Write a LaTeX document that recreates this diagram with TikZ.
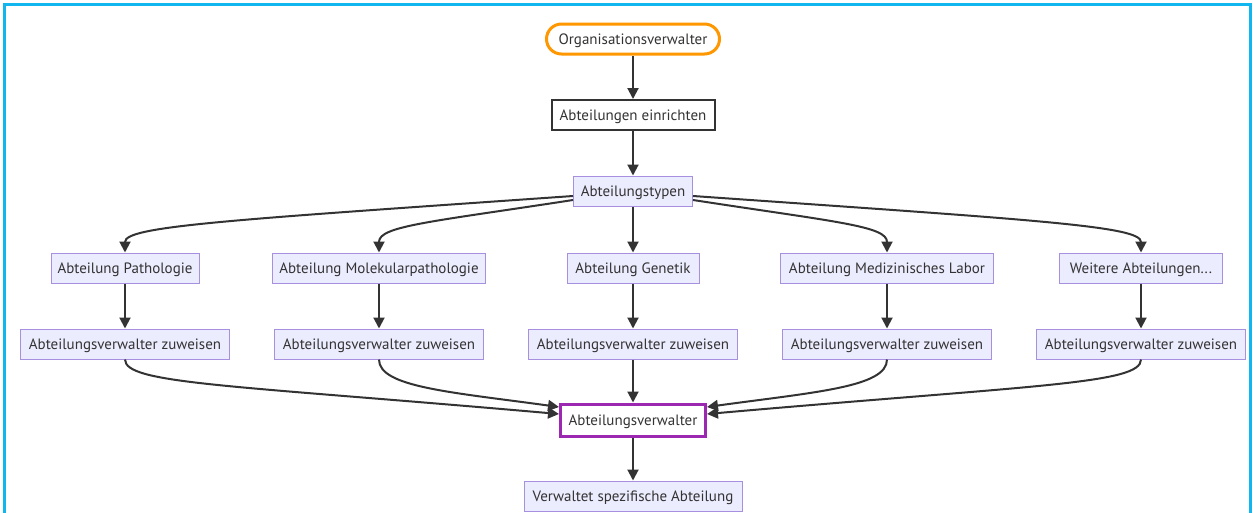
\documentclass[tikz,border=0pt]{standalone}
\usepackage{fontspec}
\setmainfont{PT Sans}
\usetikzlibrary{arrows.meta,calc}
\definecolor{nfill}{HTML}{ECECFF}
\definecolor{nstroke}{HTML}{A890E0}
\definecolor{ink}{HTML}{333333}
\definecolor{orng}{HTML}{FF9800}
\definecolor{purp}{HTML}{9C27B0}
\definecolor{framec}{HTML}{12B6EE}
\begin{document}
\begin{tikzpicture}[x=1pt,y=-1pt,
 every node/.style={font=\fontsize{15pt}{18pt}\selectfont, text=ink, minimum height=30pt, inner xsep=6pt, inner ysep=0pt, text height=12pt, text depth=1pt},
 box/.style={draw=nstroke, fill=nfill, line width=1pt},
 edge/.style={draw=ink, line width=2pt, -{Triangle[length=11pt,width=11pt]}},
]
\useasboundingbox (0,0) rectangle (1253,512);
\clip (0,0) rectangle (1253,512);
\fill[white] (0,0) rectangle (1253,512);
\draw[framec, line width=3pt] (4,4) rectangle (1250,540);

\node[draw=orng, line width=3pt, fill=white, rounded corners=15pt, minimum width=173pt] (org) at (633,39) {Organisationsverwalter};
\node[draw=ink, line width=2pt, fill=white, minimum width=163pt] (ein) at (633,115) {Abteilungen einrichten};
\node[box, minimum width=119pt] (typ) at (633,191) {Abteilungstypen};

\node[box, minimum width=148pt] (p1) at (125,268) {Abteilung Pathologie};
\node[box, minimum width=213pt] (p2) at (379,268) {Abteilung Molekularpathologie};
\node[box, minimum width=132pt] (p3) at (633,268) {Abteilung Genetik};
\node[box, minimum width=213pt] (p4) at (887,268) {Abteilung Medizinisches Labor};
\node[box, minimum width=163pt] (p5) at (1141,268) {Weitere Abteilungen...};

\node[box, minimum width=209pt] (z1) at (125,344) {Abteilungsverwalter zuweisen};
\node[box, minimum width=209pt] (z2) at (379,344) {Abteilungsverwalter zuweisen};
\node[box, minimum width=209pt] (z3) at (633,344) {Abteilungsverwalter zuweisen};
\node[box, minimum width=209pt] (z4) at (887,344) {Abteilungsverwalter zuweisen};
\node[box, minimum width=209pt] (z5) at (1141,344) {Abteilungsverwalter zuweisen};

\node[draw=purp, line width=3pt, fill=white, minimum width=145pt, minimum height=32pt] (adm) at (633,420) {Abteilungsverwalter};
\node[box, minimum width=218pt] (ver) at (633,496) {Verwaltet spezifische Abteilung};

\draw[edge] (org) -- (ein);
\draw[edge] (ein) -- (typ);
\draw[edge] (typ) -- (p3);
\draw[edge] ($(typ.west)+(0,5)$) .. controls (230,220) and (125,226) .. (p1.north);
\draw[edge] ($(typ.west)+(0,9)$) .. controls (430,222) and (379,226) .. (p2.north);
\draw[edge] ($(typ.east)+(0,9)$) .. controls (836,222) and (887,226) .. (p4.north);
\draw[edge] ($(typ.east)+(0,5)$) .. controls (1036,220) and (1141,226) .. (p5.north);

\draw[edge] (p1) -- (z1);
\draw[edge] (p2) -- (z2);
\draw[edge] (p3) -- (z3);
\draw[edge] (p4) -- (z4);
\draw[edge] (p5) -- (z5);

\draw[edge] (z1.south) .. controls (125,384) and (230,385) .. ($(adm.west)+(0,-6)$);
\draw[edge] (z2.south) .. controls (379,387) and (450,392) .. ($(adm.west)+(0,-13)$);
\draw[edge] (z4.south) .. controls (887,387) and (816,392) .. ($(adm.east)+(0,-13)$);
\draw[edge] (z5.south) .. controls (1141,384) and (1036,385) .. ($(adm.east)+(0,-6)$);
\draw[edge] (z3) -- (adm);
\draw[edge] (adm) -- (ver);
\end{tikzpicture}
\end{document}
